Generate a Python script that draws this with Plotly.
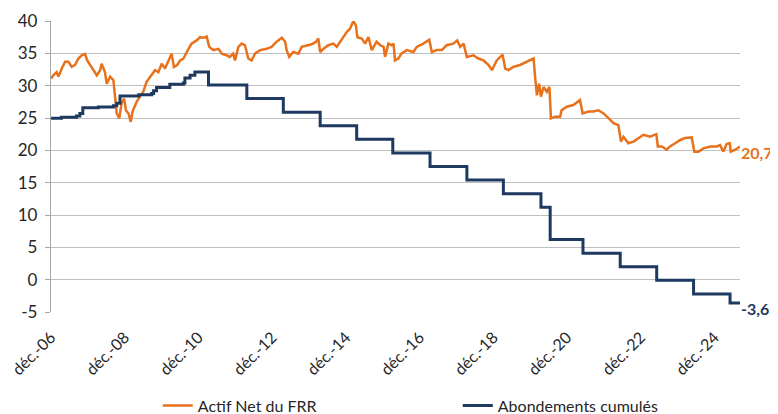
import plotly.graph_objects as go

# ---------------- data ----------------
# Actif Net du FRR (Md€), time in decimal years
actif_t = [2006.92, 2006.98, 2007.07, 2007.12, 2007.21, 2007.30, 2007.39, 2007.48, 2007.57, 2007.66,
           2007.75, 2007.84, 2007.90, 2007.97, 2008.07, 2008.16, 2008.25, 2008.29, 2008.38, 2008.43,
           2008.52, 2008.61, 2008.65, 2008.70, 2008.77, 2008.83, 2008.90, 2008.95, 2009.02, 2009.08,
           2009.13, 2009.24, 2009.33, 2009.42, 2009.51, 2009.65, 2009.74, 2009.83, 2009.92, 2010.01,
           2010.10, 2010.19, 2010.25, 2010.34, 2010.42, 2010.51, 2010.60, 2010.73, 2010.87, 2010.96,
           2011.05, 2011.14, 2011.21, 2011.32, 2011.46, 2011.55, 2011.68, 2011.77, 2011.86, 2011.91,
           2012.00, 2012.09, 2012.18, 2012.27, 2012.36, 2012.45, 2012.59, 2012.77, 2012.90, 2013.04,
           2013.18, 2013.27, 2013.31, 2013.38, 2013.49, 2013.63, 2013.72, 2013.85, 2013.99, 2014.11,
           2014.17, 2014.22, 2014.31, 2014.44, 2014.58, 2014.67, 2014.76, 2014.85, 2014.94, 2015.03,
           2015.12, 2015.19, 2015.23, 2015.35, 2015.44, 2015.53, 2015.62, 2015.75, 2015.85, 2015.94,
           2015.98, 2016.07, 2016.16, 2016.21, 2016.25, 2016.34, 2016.43, 2016.57, 2016.75, 2016.84,
           2017.02, 2017.18, 2017.25, 2017.38, 2017.52, 2017.65, 2017.83, 2017.94, 2018.02, 2018.11,
           2018.20, 2018.38, 2018.51, 2018.65, 2018.79, 2018.88, 2019.01, 2019.17, 2019.24, 2019.33,
           2019.46, 2019.64, 2019.83, 2020.01, 2020.05, 2020.10, 2020.16, 2020.21, 2020.28, 2020.37,
           2020.44, 2020.48, 2020.59, 2020.73, 2020.77, 2020.91, 2021.09, 2021.27, 2021.34, 2021.50,
           2021.63, 2021.77, 2021.91, 2022.04, 2022.18, 2022.31, 2022.38, 2022.45, 2022.58, 2022.72,
           2022.86, 2022.99, 2023.17, 2023.34, 2023.38, 2023.49, 2023.62, 2023.71, 2023.85, 2023.99,
           2024.12, 2024.30, 2024.37, 2024.48, 2024.62, 2024.80, 2024.98, 2025.07, 2025.16, 2025.25,
           2025.33, 2025.36, 2025.48, 2025.61]
actif_v = [31.1, 31.6, 32.1, 31.4, 32.65, 33.7, 33.7, 32.9, 33.2, 34.2,
           34.7, 34.9, 33.9, 33.2, 32.4, 31.6, 32.4, 33.4, 32.1, 30.3,
           31.4, 30.85, 28.3, 25.7, 24.95, 27.25, 28.0, 26.2, 25.7, 24.4,
           26.0, 27.5, 28.3, 29.05, 30.6, 31.6, 32.4, 32.1, 33.4, 32.65,
           33.7, 34.95, 32.9, 33.2, 33.9, 34.2, 35.2, 36.5, 37.0, 37.5,
           37.4, 37.6, 36.0, 35.5, 35.7, 34.95, 34.7, 34.45, 34.95, 33.9,
           36.0, 36.5, 36.25, 34.2, 33.9, 34.95, 35.5, 35.7, 36.0, 36.8,
           37.4, 36.8, 35.5, 34.45, 35.2, 34.95, 36.0, 36.25, 36.4, 36.8,
           37.3, 35.2, 35.7, 36.25, 36.5, 36.0, 36.8, 37.5, 38.3, 38.8,
           40.0, 39.3, 37.5, 37.3, 36.5, 37.5, 35.5, 36.8, 36.25, 36.0,
           34.45, 36.5, 36.25, 36.5, 33.9, 34.2, 35.0, 35.5, 35.2, 36.0,
           36.5, 37.1, 35.2, 35.5, 35.5, 36.25, 36.5, 37.0, 36.0, 36.5,
           34.45, 34.7, 34.2, 33.9, 33.2, 32.4, 33.9, 34.8, 32.65, 32.4,
           32.9, 33.2, 33.7, 34.2, 31.4, 28.5, 30.3, 28.3, 29.8, 29.05,
           29.8, 24.95, 25.2, 25.2, 26.2, 26.75, 27.0, 27.8, 25.7, 26.0,
           26.0, 26.2, 25.7, 24.95, 24.2, 23.9, 21.35, 22.1, 21.1, 21.35,
           21.9, 22.4, 22.1, 22.5, 20.6, 20.6, 20.1, 20.6, 21.1, 21.6,
           21.9, 22.0, 19.8, 19.8, 20.3, 20.6, 20.6, 20.8, 19.8, 21.0,
           21.1, 19.8, 20.1, 20.6]

# Abondements cumulés (Md€), step series
abond_t = [2006.92, 2007.20, 2007.61, 2007.70, 2007.78, 2008.20, 2008.61, 2008.70, 2008.79, 2009.30,
           2009.65, 2009.70, 2009.78, 2010.14, 2010.51, 2010.55, 2010.69, 2010.82, 2011.19, 2012.23,
           2013.22, 2014.22, 2015.21, 2016.19, 2017.20, 2018.20, 2019.19, 2020.21, 2020.46, 2021.35,
           2022.36, 2023.35, 2024.35, 2025.34, 2025.61]
abond_v = [24.95, 25.1, 25.3, 25.7, 26.6, 26.7, 26.9, 27.3, 28.4, 28.6,
           28.8, 29.2, 29.7, 30.2, 30.4, 31.2, 31.6, 32.1, 30.1, 28.0,
           25.9, 23.8, 21.7, 19.6, 17.5, 15.4, 13.3, 11.2, 6.2, 4.1,
           2.0, -0.1, -2.2, -3.6, -3.6]

tick_vals = [2006.917, 2008.917, 2010.917, 2012.917, 2014.917, 2016.917, 2018.917, 2020.917, 2022.917, 2024.917]
tick_text = ["déc.-06", "déc.-08", "déc.-10", "déc.-12", "déc.-14", "déc.-16", "déc.-18", "déc.-20", "déc.-22", "déc.-24"]
y_ticks = [-5, 0, 5, 10, 15, 20, 25, 30, 35, 40]
y_text = ["-5", "0", "5", "10", "15", "20", "25", "30", "35", "40"]

label_actif = "20,7"
label_abond = "-3,6"

ORANGE = "#E8711C"
NAVY = "#1F3A60"
GRID = "#BFBFBF"
TXT = "#262626"
FONT = "Lato, Open Sans, sans-serif"

x_range = [2006.917, 2025.61]

fig = go.Figure()
fig.add_trace(go.Scatter(x=actif_t, y=actif_v, mode="lines", name="Actif Net du FRR",
                         line=dict(color=ORANGE, width=2.5)))
fig.add_trace(go.Scatter(x=abond_t, y=abond_v, mode="lines", name="Abondements cumulés",
                         line=dict(color=NAVY, width=3, shape="hv")))

fig.add_annotation(x=actif_t[-1], y=actif_v[-1], xref="x", yref="y", text="<b>" + label_actif + "</b>",
                   showarrow=False, xanchor="left", xshift=0, yshift=-6, borderpad=0,
                   font=dict(color=ORANGE, size=16, family=FONT))
fig.add_annotation(x=abond_t[-1], y=abond_v[-1], xref="x", yref="y", text="<b>" + label_abond + "</b>",
                   showarrow=False, xanchor="left", xshift=0, yshift=-6, borderpad=0,
                   font=dict(color=NAVY, size=16, family=FONT))

# the page body adds an 8px offset; margins compensate so the plot lands where the reference has it
fig.update_layout(
    width=778, height=414,
    margin=dict(l=43, r=46, t=13, b=110, autoexpand=False),
    paper_bgcolor="white", plot_bgcolor="white",
    font=dict(family=FONT, color=TXT, size=16),
    showlegend=True,
    legend=dict(orientation="h", x=0.155, xanchor="left", y=-0.322, yanchor="middle",
                font=dict(size=16, color=TXT), entrywidth=255, entrywidthmode="pixels",
                traceorder="normal", bgcolor="rgba(0,0,0,0)"),
    xaxis=dict(range=x_range, tickvals=tick_vals, ticktext=tick_text, tickangle=-45,
               showgrid=False, zeroline=False, showline=False, ticks="", automargin=False,
               ticklabelstandoff=12, ticklabeloverflow="allow", tickfont=dict(size=16, color=TXT)),
    xaxis2=dict(range=x_range, overlaying="x", anchor="free", position=(-0.6 + 5) / 45,
                side="bottom", tickvals=tick_vals, showticklabels=False, showgrid=False,
                zeroline=False, showline=True, linecolor="#A6A6A6", linewidth=1.3,
                ticks="outside", ticklen=5, tickcolor="#A6A6A6", tickwidth=1.3, automargin=False),
    yaxis=dict(range=[-5, 40], tickvals=y_ticks, ticktext=y_text, showgrid=True, gridcolor=GRID,
               gridwidth=1.3, zeroline=False, showline=True, linecolor="#A6A6A6", linewidth=1.3,
               ticks="outside", ticklen=5, tickcolor="#A6A6A6", ticklabelstandoff=4,
               automargin=False, tickfont=dict(size=17, color=TXT)),
)

fig.write_html("out.html")
